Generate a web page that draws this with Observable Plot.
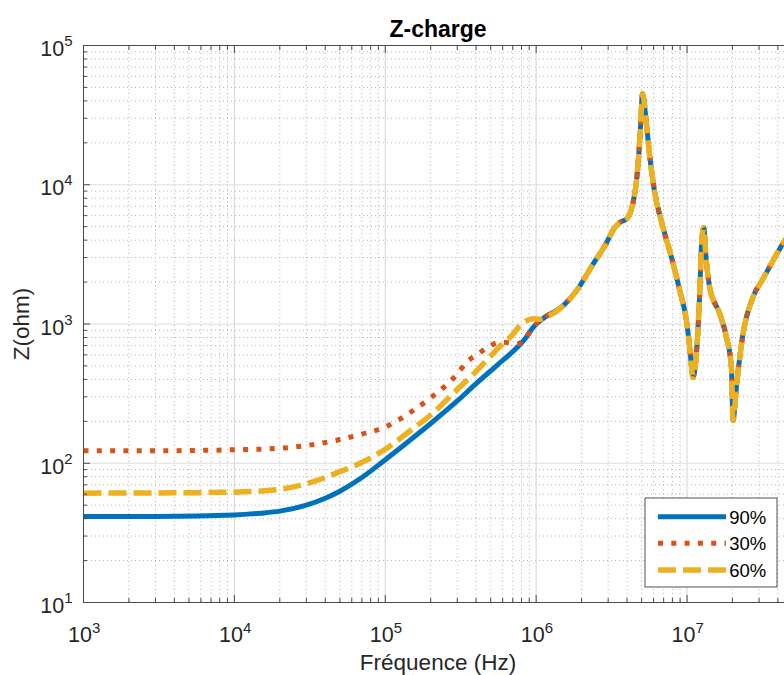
<!DOCTYPE html>
<html><head><meta charset="utf-8">
<script src="https://cdn.jsdelivr.net/npm/d3@7"></script>
<script src="https://cdn.jsdelivr.net/npm/@observablehq/plot@0.6"></script>
<style>html,body{margin:0;padding:0;overflow:hidden;background:#fff} svg{max-width:none !important}</style>
</head><body><div id="chart"></div>
<script>
// ---- data ----
const seriesNames = ["90%", "30%", "60%"];
const seriesColors = ["#0072BD", "#D95319", "#EDB120"];

// low-frequency part, one per series
const f90 = [1e3, 3e3, 1e4, 1.5e4, 2e4, 3e4, 4e4, 5e4, 7e4, 1e5, 1.5e5, 2e5, 3e5, 4e5, 5.5e5, 7.5e5, 8.5e5, 9.55e5];
const z90 = [41.4, 41.5, 42.5, 43.8, 45.3, 50, 56, 63, 79, 106, 150, 193, 280, 373, 505, 680, 790, 946];

const f30 = [1e3, 3e3, 1e4, 2e4, 3e4, 5e4, 7e4, 1e5, 1.5e5, 2e5, 3e5, 3.46e5, 4.13e5, 4.8e5, 5.75e5, 6.5e5, 7.5e5, 8.5e5, 9.55e5];
const z30 = [123, 123, 125, 128, 134, 148, 162, 182, 236, 295, 438, 531, 610, 680, 739, 735, 720, 790, 946];

const f60 = [1e3, 3e3, 1e4, 2e4, 3.5e4, 5e4, 6.8e4, 1e5, 1.5e5, 2e5, 3e5, 4e5, 5e5, 6e5, 7e5, 7.8e5, 8.9e5, 9.6e5, 1.05e6];
const z60 = [61, 61.2, 62, 65, 75, 87, 100, 126, 175, 222, 339, 457, 590, 723, 840, 973, 1070, 1090, 1080];

// high-frequency part, common to all three curves
const fHigh = [1.117e6, 1.514e6, 1.854e6, 2.388e6, 2.858e6, 3.327e6, 3.597e6, 3.972e6, 4.266e6, 4.446e6,
  4.592e6, 4.732e6, 4.898e6, 5.07e6, 5.358e6, 5.636e6, 6.081e6, 6.934e6, 7.889e6, 8.954e6,
  9.91e6, 1.042e7, 1.096e7, 1.153e7, 1.213e7, 1.245e7, 1.291e7, 1.33e7, 1.413e7, 1.648e7,
  1.824e7, 1.968e7, 2.018e7, 2.123e7, 2.35e7, 2.735e7, 3.184e7, 3.715e7, 4.365e7, 5e7];
const zHigh = [1100, 1355, 1738, 2700, 3656, 4943, 5370, 5680, 6600, 8000,
  10000, 14000, 24000, 45000, 28800, 16600, 9080, 4940, 3010, 1740,
  1057, 680, 414, 610, 1645, 3560, 4940, 3185, 1832, 1183,
  804, 489, 203, 352, 849, 1556, 2109, 2851, 3864, 4800];

// axis ticks
const xMajor = [1e3, 1e4, 1e5, 1e6, 1e7];
const yMajor = [1e1, 1e2, 1e3, 1e4, 1e5];
const minorMult = [2, 3, 4, 5, 6, 7, 8, 9];

const xMinor = xMajor.flatMap(d => minorMult.map(m => d * m)).filter(v => v <= 5e7);
const yMinor = yMajor.slice(0, 4).flatMap(d => minorMult.map(m => d * m));

const rows = (f, z, s) => f.concat(fHigh).map((ff, i) => ({f: ff, z: z.concat(zHigh)[i], s}));
const rows90 = rows(f90, z90, "90%");
const rows30 = rows(f30, z30, "30%");
const rows60 = rows(f60, z60, "60%");

const axisColor = "#4a4a4a";
const txt = "#262626";
const font = "'Liberation Sans', Arial, sans-serif";

const chart = Plot.plot({
  width: 800, height: 675,
  marginLeft: 83, marginRight: 8, marginTop: 45, marginBottom: 73,
  x: {type: "log", domain: [1e3, 5e7]},
  y: {type: "log", domain: [10, 1e5]},
  style: {fontFamily: font, background: "white", color: txt, maxWidth: "none"},
  marks: [
    Plot.ruleX(xMinor, {stroke: "#b5b5b5", strokeDasharray: "1,3", strokeWidth: 1}),
    Plot.ruleY(yMinor, {stroke: "#b5b5b5", strokeDasharray: "1,3", strokeWidth: 1}),
    Plot.ruleX(xMajor, {stroke: "#dcdcdc", strokeWidth: 1.2}),
    Plot.ruleY(yMajor, {stroke: "#dcdcdc", strokeWidth: 1.2}),
    Plot.line(rows90, {x: "f", y: "z", stroke: seriesColors[0], strokeWidth: 5, strokeLinejoin: "round", curve: "monotone-x", clip: true}),
    Plot.line(rows30, {x: "f", y: "z", stroke: seriesColors[1], strokeWidth: 5, strokeDasharray: "5,8.3", strokeLinecap: "butt", curve: "monotone-x", clip: true}),
    Plot.line(rows60, {x: "f", y: "z", stroke: seriesColors[2], strokeWidth: 5.5, strokeDasharray: "18,7", strokeLinecap: "butt", curve: "monotone-x", clip: true}),
    Plot.frame({stroke: axisColor, strokeWidth: 1}),
    Plot.axisX(xMajor, {anchor: "bottom", tickSize: -7, tickFormat: () => "", label: null, stroke: axisColor}),
    Plot.axisX(xMinor, {anchor: "bottom", tickSize: -4, tickFormat: () => "", label: null, stroke: axisColor}),
    Plot.axisX(xMajor, {anchor: "top", tickSize: -7, tickFormat: () => "", label: null, stroke: axisColor}),
    Plot.axisX(xMinor, {anchor: "top", tickSize: -4, tickFormat: () => "", label: null, stroke: axisColor}),
    Plot.axisY(yMajor, {anchor: "left", tickSize: -7, tickFormat: () => "", label: null, stroke: axisColor}),
    Plot.axisY(yMinor, {anchor: "left", tickSize: -4, tickFormat: () => "", label: null, stroke: axisColor}),
    // x tick labels 10^n
    Plot.text(xMajor, {x: d => d, frameAnchor: "bottom", text: () => "10", textAnchor: "end", lineAnchor: "bottom", dx: 8.5, dy: 39, fontSize: 21.5, fill: txt}),
    Plot.text(xMajor, {x: d => d, frameAnchor: "bottom", text: d => String(Math.round(Math.log10(d))), textAnchor: "start", lineAnchor: "bottom", dx: 8.5, dy: 30, fontSize: 15, fill: txt}),
    // y tick labels 10^n
    Plot.text(yMajor, {y: d => d, frameAnchor: "left", text: () => "10", textAnchor: "end", lineAnchor: "bottom", dx: -19.3, dy: 10.5, fontSize: 21.5, fill: txt}),
    Plot.text(yMajor, {y: d => d, frameAnchor: "left", text: d => String(Math.round(Math.log10(d))), textAnchor: "start", lineAnchor: "bottom", dx: -19.3, dy: 0.5, fontSize: 15, fill: txt}),
    // title and axis labels
    Plot.text(["Z-charge"], {frameAnchor: "top", text: d => d, textAnchor: "middle", lineAnchor: "bottom", dy: -9, fontSize: 23, fontWeight: "bold", fill: "#000"}),
    Plot.text(["Fréquence (Hz)"], {frameAnchor: "bottom", text: d => d, textAnchor: "middle", lineAnchor: "bottom", dy: 67.5, fontSize: 22.5, fill: txt}),
    Plot.text(["Z(ohm)"], {frameAnchor: "left", text: d => d, textAnchor: "middle", lineAnchor: "bottom", rotate: -90, dx: -54.6, fontSize: 22.5, fill: txt})
  ]
});

// legend box
const svg = d3.select(chart);
const lg = svg.append("g").attr("class", "legend");
lg.append("rect").attr("x", 645).attr("y", 498).attr("width", 132).attr("height", 89)
  .attr("fill", "white").attr("stroke", "#262626").attr("stroke-width", 0.8);
const rowsY = [516.7, 543.3, 570];
const dashes = [null, "5,8.3", "18,7"];
const widths = [5, 5, 5.5];
seriesNames.forEach((name, i) => {
  lg.append("line").attr("x1", 658).attr("x2", 726).attr("y1", rowsY[i]).attr("y2", rowsY[i])
    .attr("stroke", seriesColors[i]).attr("stroke-width", widths[i])
    .attr("stroke-dasharray", dashes[i]).attr("stroke-linecap", "butt");
  lg.append("text").attr("x", 729.3).attr("y", rowsY[i] + 7).attr("font-size", 18.5)
    .attr("text-anchor", "start")
    .attr("font-family", font).attr("fill", "#000").text(name);
});

document.getElementById("chart").appendChild(chart);
</script>
</body></html>
